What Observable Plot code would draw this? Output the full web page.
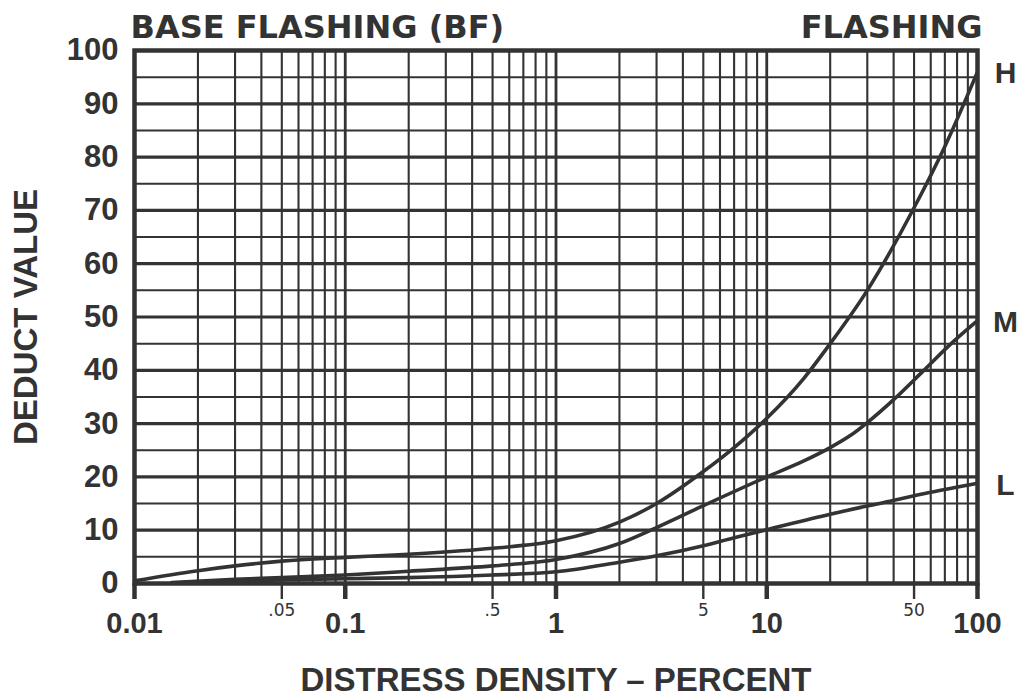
<!DOCTYPE html>
<html><head><meta charset="utf-8">
<script src="https://cdn.jsdelivr.net/npm/d3@7"></script>
<script src="https://cdn.jsdelivr.net/npm/@observablehq/plot@0.6"></script>
<style>html,body{margin:0;padding:0;background:#fff} svg{display:block}</style>
</head><body><div id="chart"></div>
<script>
// ---- data ----
const curveNames = ["H", "M", "L"];
const hDensity = [0.01, 0.02, 0.03, 0.05, 0.1, 0.2, 0.5, 1, 2, 3, 5, 7, 10, 15, 20, 30, 50, 70, 100];
const hDeduct  = [0.5, 2.4, 3.3, 4.2, 4.9, 5.5, 6.6, 8.0, 11.5, 15, 21, 25.5, 31, 38.5, 45, 55, 70.5, 82, 96];
const mDensity = [0.015, 0.03, 0.05, 0.1, 0.2, 0.5, 1, 2, 3, 5, 10, 15, 20, 25, 30, 40, 55, 75, 100];
const mDeduct  = [0.2, 0.8, 1.1, 1.6, 2.3, 3.3, 4.5, 7.5, 10.5, 14.6, 20, 23, 25.5, 27.8, 30.2, 34.5, 39.8, 45, 49.3];
const lDensity = [0.015, 0.03, 0.1, 0.2, 0.5, 1, 2, 3, 5, 7, 10, 20, 36, 60, 100];
const lDeduct  = [0.1, 0.5, 0.9, 1.1, 1.6, 2.2, 4, 5.2, 7.1, 8.6, 10.1, 13, 15.2, 17.1, 18.8];

const xMajorTicks  = [0.01, 0.1, 1, 10, 100];
const xMajorLabels = ["0.01", "0.1", "1", "10", "100"];
const xMinorTicks  = [0.05, 0.5, 5, 50];
const xMinorLabels = [".05", ".5", "5", "50"];
const yTicks = [0, 10, 20, 30, 40, 50, 60, 70, 80, 90, 100];

const titleLeft = "BASE FLASHING (BF)";
const titleRight = "FLASHING";
const xLabel = "DISTRESS DENSITY – PERCENT";
const yLabel = "DEDUCT VALUE";

// ---- build tables ----
const series = [[hDensity, hDeduct], [mDensity, mDeduct], [lDensity, lDeduct]];
const rows = series.flatMap(([xs, ys], k) => xs.map((x, i) => ({curve: curveNames[k], density: x, deduct: ys[i]})));
const ends = series.map(([xs, ys], k) => ({curve: curveNames[k], density: xs[xs.length - 1], deduct: ys[ys.length - 1]}));
const majorTable = xMajorTicks.map((t, i) => ({t, label: xMajorLabels[i]}));
const minorTable = xMinorTicks.map((t, i) => ({t, label: xMinorLabels[i]}));

const gridX = d3.range(-2, 2).flatMap(e => d3.range(1, 10).map(m => +(m * 10 ** e).toPrecision(3))).concat([100]);
const gridY = d3.range(0, 101, 5);

const ink = "#333333";
const font = "Liberation Sans, Arial, sans-serif";
const wideFont = "DejaVu Sans, Verdana, sans-serif";
const tickLen = -3; // tick length below the axis, in deduct units

const chart = Plot.plot({
  width: 1021, height: 698,
  marginLeft: 134, marginRight: 44, marginTop: 50, marginBottom: 115,
  style: {fontFamily: font, color: ink, background: "#fff", overflow: "visible"},
  x: {type: "log", domain: [0.01, 100], axis: null},
  y: {domain: [0, 100], axis: null},
  marks: [
    Plot.ruleX(gridX, {stroke: ink, strokeWidth: d => xMajorTicks.includes(d) ? 2.8 : 2.1}),
    Plot.ruleY(gridY, {stroke: ink, strokeWidth: d => d % 10 === 0 ? 3.2 : 2}),
    Plot.line(rows, {x: "density", y: "deduct", z: "curve", stroke: ink, strokeWidth: 3.6, curve: "monotone-x"}),
    Plot.frame({stroke: ink, strokeWidth: 4.5}),
    // x ticks and labels
    Plot.ruleX(majorTable, {x: "t", y1: 0, y2: tickLen, stroke: ink, strokeWidth: 4.5}),
    Plot.ruleX(minorTable, {x: "t", y1: 0, y2: tickLen, stroke: ink, strokeWidth: 2.4}),
    Plot.text(majorTable, {x: "t", text: "label", frameAnchor: "bottom", lineAnchor: "top", dy: 29,
      fontSize: 29, fontWeight: "bold", fill: ink}),
    Plot.text(minorTable, {x: "t", text: "label", frameAnchor: "bottom", lineAnchor: "top", dy: 20,
      fontSize: 17, fontFamily: wideFont, fill: ink}),
    Plot.axisY(yTicks, {tickSize: 0, tickPadding: 16, fontSize: 31, fontWeight: "bold", fill: ink, label: null}),
    Plot.text(ends, {x: "density", y: "deduct", text: "curve", dx: 28, dy: 2, fontSize: 30, fontWeight: "bold", fill: ink}),
    Plot.text([titleLeft], {frameAnchor: "top-left", textAnchor: "start", lineAnchor: "bottom", dx: -4, dy: -13,
      fontSize: 32, fontWeight: "bold", fontFamily: wideFont, fill: ink}),
    Plot.text([titleRight], {frameAnchor: "top-right", textAnchor: "end", lineAnchor: "bottom", dx: 5, dy: -13,
      fontSize: 32, fontWeight: "bold", fontFamily: wideFont, fill: ink}),
    Plot.text([yLabel], {frameAnchor: "left", textAnchor: "middle", lineAnchor: "middle", rotate: -90, dx: -108,
      fontSize: 33, fontWeight: "bold", fill: ink}),
    Plot.text([xLabel], {frameAnchor: "bottom", textAnchor: "middle", lineAnchor: "bottom", dy: 107,
      fontSize: 33, fontWeight: "bold", fill: ink})
  ]
});
document.getElementById("chart").append(chart);
</script>
</body></html>
